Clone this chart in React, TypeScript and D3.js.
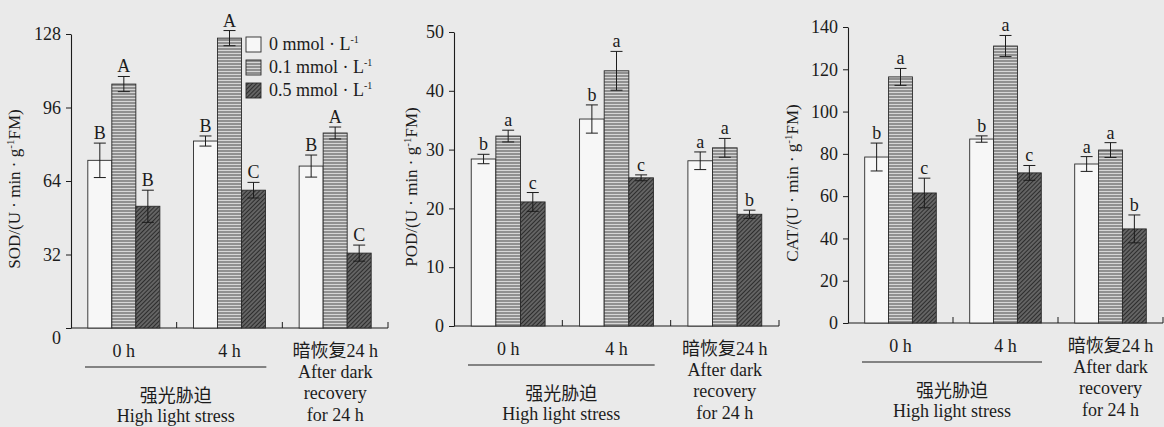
import { useEffect, useRef } from 'react';
import * as d3 from 'd3';

// groups along the x axis and the three treatments
const groups = ['0 h', '4 h', '24 h'];
const series = ['0 mmol', '0.1 mmol', '0.5 mmol'];
const legendLabels = ['0 mmol · L', '0.1 mmol · L', '0.5 mmol · L'];

// SOD, values per group: [0, 0.1, 0.5 mmol]
const sodMeans = [[73, 106.2, 53], [81.4, 126.2, 60], [70.5, 84.9, 32.6]];
const sodErrors = [[7.5, 3.3, 7], [2.2, 3.3, 3.4], [4.8, 2.6, 3.5]];
const sodLetters = [['B', 'A', 'B'], ['B', 'A', 'C'], ['B', 'A', 'C']];
const sodTicks = [0, 32, 64, 96, 128];

// POD
const podMeans = [[28.4, 32.3, 21.1], [35.2, 43.4, 25.2], [28.1, 30.3, 19]];
const podErrors = [[0.8, 1, 1.6], [2.4, 3.3, 0.5], [1.5, 1.6, 0.7]];
const podLetters = [['b', 'a', 'c'], ['b', 'a', 'c'], ['a', 'a', 'b']];
const podTicks = [0, 10, 20, 30, 40, 50];

// CAT
const catMeans = [[78.5, 116.4, 61.5], [87, 131, 71], [75.2, 81.8, 44.5]];
const catErrors = [[6.6, 4, 7], [1.5, 5, 3.5], [3.5, 3.5, 6.6]];
const catLetters = [['b', 'a', 'c'], ['b', 'a', 'c'], ['a', 'a', 'b']];
const catTicks = [0, 20, 40, 60, 80, 100, 120, 140];

const FONT = "'Liberation Serif', 'Times New Roman', 'Noto Sans CJK SC', serif";
const INK = '#1c1c1c';

interface Panel {
  name: string;
  means: number[][];
  errors: number[][];
  letters: string[][];
  ticks: number[];
  left: number;
  right: number;
  bottom: number;
  top: number;
  labelOffset: number;
  zeroShift: number;
}

const panels: Panel[] = [
  { name: 'SOD', means: sodMeans, errors: sodErrors, letters: sodLetters, ticks: sodTicks,
    left: 71, right: 388, bottom: 328, top: 34, labelOffset: 51, zeroShift: 10 },
  { name: 'POD', means: podMeans, errors: podErrors, letters: podLetters, ticks: podTicks,
    left: 454, right: 779, bottom: 326, top: 32, labelOffset: 37, zeroShift: 0 },
  { name: 'CAT', means: catMeans, errors: catErrors, letters: catLetters, ticks: catTicks,
    left: 848, right: 1163, bottom: 323, top: 27, labelOffset: 50, zeroShift: 0 },
];

const fills = ['#f7f7f7', 'url(#hstripe)', 'url(#dhatch)'];

export default function App() {
  const svgRef = useRef<SVGSVGElement>(null);

  useEffect(() => {
    if (!svgRef.current) return;
    const svg = d3.select(svgRef.current);
    svg.selectAll('*').remove();

    svg.append('rect').attr('width', 1164).attr('height', 427).attr('fill', '#eaeaea');

    // patterns
    const defs = svg.append('defs');
    const hs = defs.append('pattern').attr('id', 'hstripe')
      .attr('patternUnits', 'userSpaceOnUse').attr('width', 4).attr('height', 3);
    hs.append('rect').attr('width', 4).attr('height', 3).attr('fill', '#d6d6d6');
    hs.append('line').attr('x1', 0).attr('x2', 4).attr('y1', 1).attr('y2', 1)
      .attr('stroke', '#4a4a4a').attr('stroke-width', 1);
    const dh = defs.append('pattern').attr('id', 'dhatch')
      .attr('patternUnits', 'userSpaceOnUse').attr('width', 3).attr('height', 3)
      .attr('patternTransform', 'rotate(45)');
    dh.append('rect').attr('width', 3).attr('height', 3).attr('fill', '#646464');
    dh.append('line').attr('x1', 0).attr('x2', 0).attr('y1', 0).attr('y2', 3)
      .attr('stroke', '#1e1e1e').attr('stroke-width', 1.6);

    panels.forEach((p, pi) => {
      const g = svg.append('g').style('font-family', FONT).style('fill', INK);

      const y = d3.scaleLinear()
        .domain([0, p.ticks[p.ticks.length - 1]])
        .range([p.bottom, p.top]);
      const x0 = d3.scaleBand<string>().domain(groups).range([p.left, p.right]);
      const x1 = d3.scaleBand<string>().domain(series)
        .range([0, x0.bandwidth()]).paddingInner(0).paddingOuter(0.7);

      // y axis
      const ya = g.append('g')
        .attr('transform', `translate(${p.left},0)`)
        .call(d3.axisLeft(y).tickValues(p.ticks).tickSize(5).tickSizeOuter(0).tickPadding(5));
      ya.select('.domain').attr('stroke', INK).attr('stroke-width', 1.1);
      ya.selectAll('.tick line').attr('stroke', INK);
      ya.selectAll('.tick text')
        .style('font-family', FONT).style('font-size', '18px').attr('fill', INK)
        .attr('dy', (d: any) => (d === 0 ? `${0.32 + p.zeroShift / 18}em` : '0.32em'));

      // x baseline with boundary ticks pointing up
      g.append('line')
        .attr('x1', p.left).attr('x2', p.right).attr('y1', p.bottom).attr('y2', p.bottom)
        .attr('stroke', INK).attr('stroke-width', 1.1);
      groups.forEach(gr => {
        const xb = (x0(gr) as number) + x0.bandwidth();
        g.append('line')
          .attr('x1', xb).attr('x2', xb).attr('y1', p.bottom).attr('y2', p.bottom - 6)
          .attr('stroke', INK);
      });

      // bars
      groups.forEach((gr, gi) => {
        series.forEach((s, si) => {
          const v = p.means[gi][si];
          const e = p.errors[gi][si];
          const bx = (x0(gr) as number) + (x1(s) as number);
          const bw = x1.bandwidth();
          const cx = bx + bw / 2;
          g.append('rect')
            .attr('x', bx).attr('y', y(v))
            .attr('width', bw).attr('height', p.bottom - y(v))
            .attr('fill', fills[si]).attr('stroke', '#2a2a2a').attr('stroke-width', 0.9);
          // error bar
          const eg = g.append('g').attr('stroke', INK).attr('stroke-width', 1);
          eg.append('line').attr('x1', cx).attr('x2', cx).attr('y1', y(v + e)).attr('y2', y(v - e));
          eg.append('line').attr('x1', cx - 6).attr('x2', cx + 6).attr('y1', y(v + e)).attr('y2', y(v + e));
          eg.append('line').attr('x1', cx - 6).attr('x2', cx + 6).attr('y1', y(v - e)).attr('y2', y(v - e));
          g.append('text')
            .attr('x', cx).attr('y', y(v + e) - 4)
            .attr('text-anchor', 'middle').style('font-size', '18px')
            .text(p.letters[gi][si]);
        });
      });

      // y label
      const ylab = g.append('text')
        .attr('transform', `translate(${p.left - p.labelOffset},${(p.bottom + p.top) / 2 + 8}) rotate(-90)`)
        .attr('text-anchor', 'middle').style('font-size', '17px');
      ylab.append('tspan').text(`${p.name}/(U · min · g`);
      ylab.append('tspan').attr('dy', -6).style('font-size', '11px').text('-1');
      ylab.append('tspan').attr('dy', 6).text('FM)');

      // x labels
      const c0 = (x0(groups[0]) as number) + x0.bandwidth() / 2;
      const c1 = (x0(groups[1]) as number) + x0.bandwidth() / 2;
      const c2 = (x0(groups[2]) as number) + x0.bandwidth() / 2;
      const tx = (xx: number, yy: number, t: string) =>
        g.append('text').attr('x', xx).attr('y', yy).attr('text-anchor', 'middle')
          .style('font-size', '18px').text(t);
      tx(c0, p.bottom + 29, '0 h');
      tx(c1, p.bottom + 29, '4 h');
      tx(c2, p.bottom + 29, '暗恢复24 h');
      tx(c2, p.bottom + 50, 'After dark');
      tx(c2, p.bottom + 71, 'recovery');
      tx(c2, p.bottom + 93, 'for 24 h');
      const lx1 = p.left + 14;
      const lx2 = (x0(groups[1]) as number) + x0.bandwidth() - 16;
      g.append('line').attr('x1', lx1).attr('x2', lx2)
        .attr('y1', p.bottom + 39).attr('y2', p.bottom + 39)
        .attr('stroke', INK).attr('stroke-width', 1);
      tx((lx1 + lx2) / 2, p.bottom + 74, '强光胁迫');
      tx((lx1 + lx2) / 2, p.bottom + 94, 'High light stress');

      // legend in the first panel
      if (pi === 0) {
        legendLabels.forEach((l, li) => {
          const ly = 37 + li * 23;
          g.append('rect').attr('x', 246).attr('y', ly).attr('width', 15).attr('height', 15)
            .attr('fill', fills[li]).attr('stroke', '#2a2a2a').attr('stroke-width', 0.9);
          const t = g.append('text').attr('x', 269).attr('y', ly + 13).style('font-size', '18px');
          t.append('tspan').text(l);
          t.append('tspan').attr('dy', -7).style('font-size', '10px').text('-1');
        });
      }
    });
  }, []);

  return (
    <svg ref={svgRef} width={1164} height={427}
      style={{ position: 'absolute', left: 0, top: 0 }} />
  );
}
